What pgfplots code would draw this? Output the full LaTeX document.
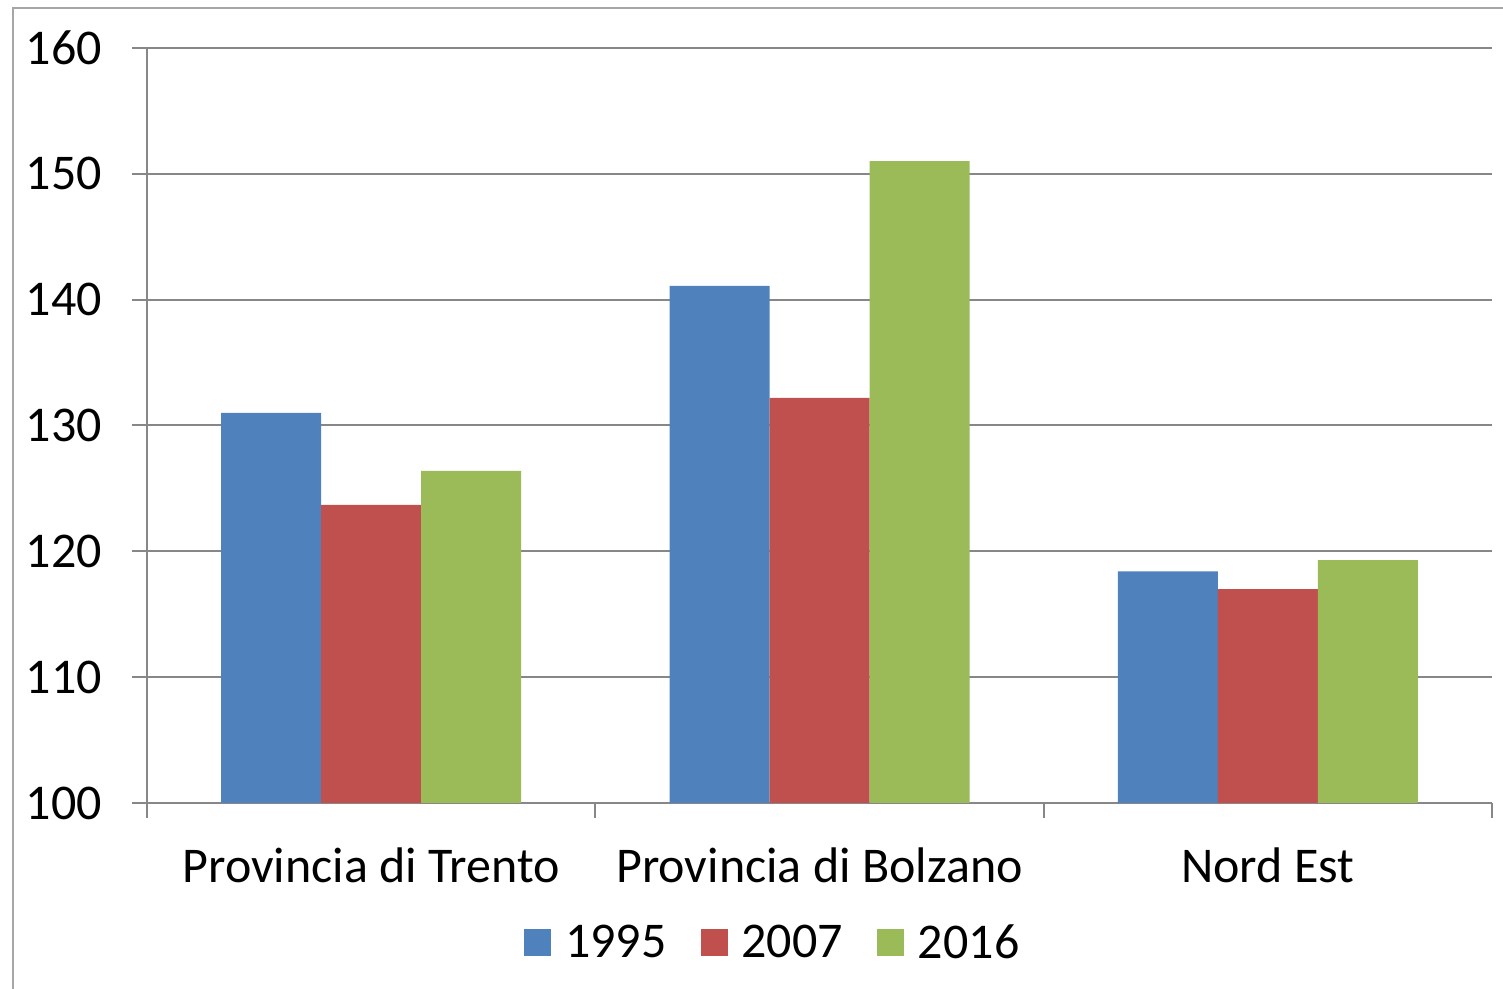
\documentclass[border=0pt]{standalone}
\usepackage{pgfplots}
\pgfplotsset{compat=1.18}
\usepackage{fontspec}
\setmainfont{Carlito}
\definecolor{cblue}{HTML}{4F81BD}
\definecolor{cred}{HTML}{C0504D}
\definecolor{cgreen}{HTML}{9BBB59}
\definecolor{cgrid}{HTML}{878787}
\definecolor{cframe}{HTML}{A6A6A6}
\begin{document}
\begin{tikzpicture}
\path[use as bounding box] (0,0) rectangle (751.5pt,494.5pt);
\draw[cframe, line width=0.8pt] (6.5pt,0) -- (6.5pt,490.5pt) -- (751.5pt,490.5pt);
\begin{axis}[
  at={(73.5pt,93pt)}, anchor=south west,
  scale only axis, width=672.5pt, height=377.5pt,
  ybar=0pt, bar width=50pt,
  xmin=-0.5, xmax=2.5, ymin=100, ymax=160,
  xtick={0,1,2},
  xticklabels={Provincia di Trento, Provincia di Bolzano, Nord Est},
  minor xtick={-0.5,0.5,1.5,2.5},
  ytick={100,110,...,160},
  axis x line*=bottom, axis y line*=left,
  axis line style={cgrid, line width=1pt, -},
  ymajorgrids, grid style={cgrid, line width=1pt},
  tick align=outside,
  major tick length=7.5pt, minor tick length=7.5pt,
  x tick style={draw=none},
  minor x tick style={draw=cgrid, line width=1pt},
  y tick style={cgrid, line width=1pt},
  tick label style={font=\fontsize{25}{29}\selectfont, text=black},
  /pgf/number format/assume math mode=true,
  yticklabel style={xshift=-11.5pt},
  xticklabel style={yshift=-11.5pt},
  legend columns=3,
  legend style={at={(0.466,-0.185)}, anchor=center, draw=none,
    font=\fontsize{25}{29}\selectfont,
    /tikz/every odd column/.append style={column sep=5pt},
    /tikz/every even column/.append style={column sep=15pt}},
  legend image code/.code={\fill[#1] (0pt,-6.75pt) rectangle (13.5pt,6.75pt);},
]
\addplot[fill=cblue, draw=none] coordinates {(0,131.0) (1,141.1) (2,118.4)};
\addplot[fill=cred, draw=none] coordinates {(0,123.7) (1,132.2) (2,117.0)};
\addplot[fill=cgreen, draw=none] coordinates {(0,126.4) (1,151.0) (2,119.3)};
\legend{1995,2007,2016}
\end{axis}
\end{tikzpicture}
\end{document}
